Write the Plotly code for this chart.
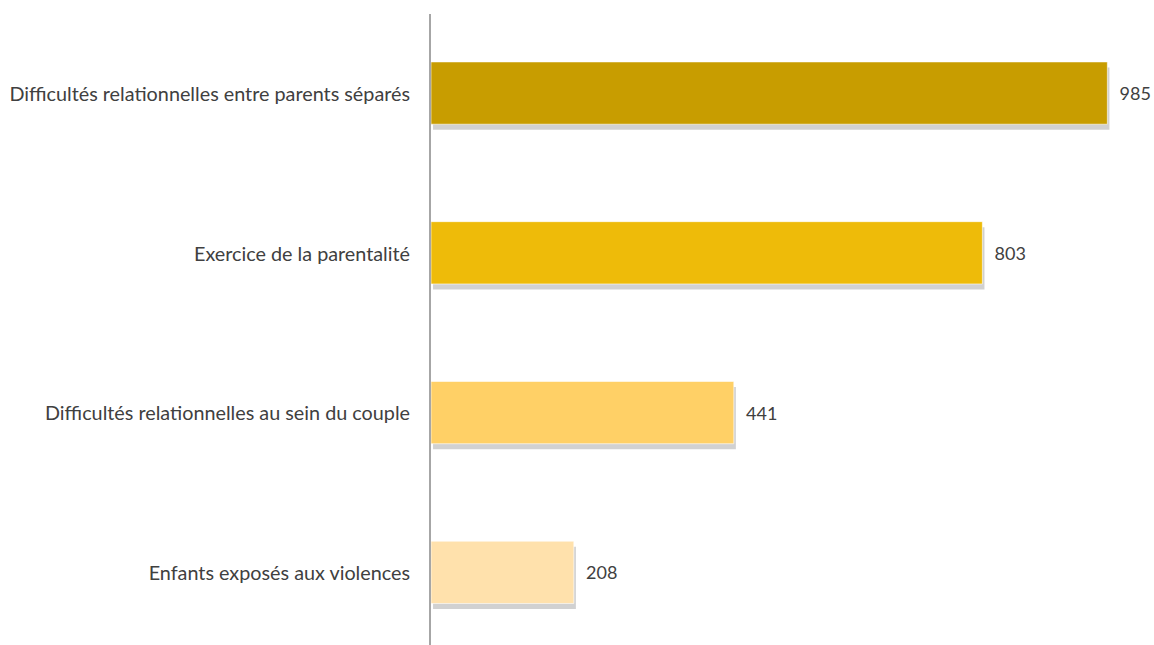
import plotly.graph_objects as go

categories = [
    "Difficultés relationnelles entre parents séparés",
    "Exercice de la parentalité",
    "Difficultés relationnelles au sein du couple",
    "Enfants exposés aux violences",
]
values = [985, 803, 441, 208]
colors = ["#C89D00", "#EEBB09", "#FFD066", "#FFE1AC"]
value_labels = ["985", "803", "441", "208"]

font_family = "Lato, Open Sans, sans-serif"

fig = go.Figure()
# soft shadow
fig.add_trace(go.Bar(
    y=categories, x=values, orientation="h", base=3,
    marker=dict(color="rgba(140,140,140,0.40)", line=dict(width=0)),
    width=0.39, offset=-0.19 + 0.025,
    hoverinfo="skip", showlegend=False,
))
fig.add_trace(go.Bar(
    y=categories, x=values, orientation="h",
    marker=dict(color=colors, line=dict(color="rgba(255,255,255,0.6)", width=1)),
    width=0.39, offset=-0.2,
    text=value_labels, texttemplate="  %{text}", textposition="outside", cliponaxis=False,
    textfont=dict(family=font_family, size=18, color="#404040"),
    showlegend=False,
))
fig.update_layout(
    width=1154, height=645,
    margin=dict(l=431, r=2, t=14, b=0),
    paper_bgcolor="white", plot_bgcolor="white",
    barmode="overlay",
    xaxis=dict(range=[0, 1050], showgrid=False, showticklabels=False,
               zeroline=False, showline=False, fixedrange=True),
    yaxis=dict(type="category", range=[3.45, -0.5], showgrid=False,
               showline=True, linecolor="#A6A6A6", linewidth=2,
               ticks="", ticklabelstandoff=15,
               tickfont=dict(family=font_family, size=19.8, color="#404040")),
)
fig.write_html("out.html")
